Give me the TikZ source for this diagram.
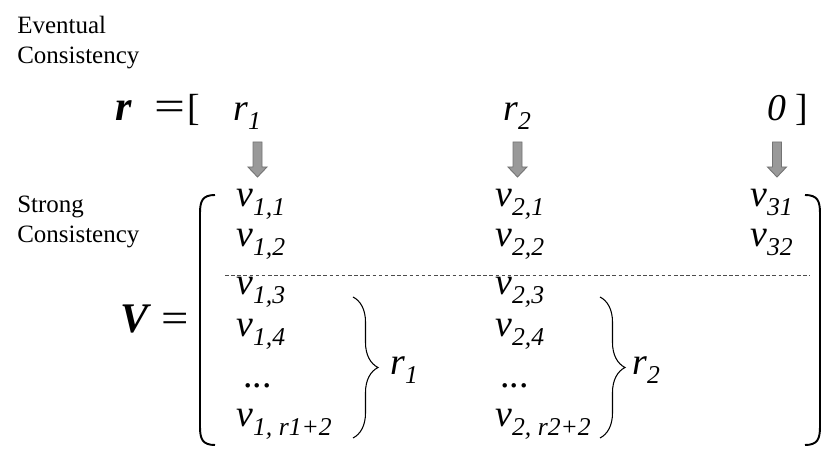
\documentclass[tikz,border=0pt]{standalone}
\usepackage{fontspec}
\setmainfont{Liberation Serif}
\usepackage{tikz}
\usetikzlibrary{decorations.pathreplacing}

\newcommand{\bigsz}{\fontsize{21.5}{26}\selectfont}
\newcommand{\boldsz}{\fontsize{24}{28}\selectfont}
\newcommand{\subsz}{\fontsize{14.6}{17}\selectfont}
\newcommand{\txtsz}{\fontsize{14.2}{17}\selectfont}
\newcommand{\vsb}[1]{\raisebox{-4.8pt}{\subsz #1}}

\begin{document}
\begin{tikzpicture}[
  note/.style={font=\txtsz, inner sep=0pt, anchor=base west},
  ent/.style={font=\bigsz\itshape, inner sep=0pt, anchor=base west},
  garrow/.style={fill=black!40, draw=black!55, line width=0.5pt},
  paren/.style={line width=1.1pt},
  brc/.style={decorate, decoration={brace, amplitude=0.5cm}, line width=0.6pt}
]
\useasboundingbox (0,0) rectangle (16.7,9.32);

\node [note] (ev1) at (0.34,8.64) {Eventual};
\node [note] (ev2) at (0.34,8.04) {Consistency};
\node [note] (st1) at (0.34,5.06) {Strong};
\node [note] (st2) at (0.34,4.46) {Consistency};

% r row
\node [ent, font=\boldsz\bfseries\itshape] (rb) at (2.3,6.9) {r};
\node [ent, font=\boldsz, anchor=base] (req) at (3.39,6.9) {\scalebox{1.3}[1]{=}};
\node [ent] (rbr) at (3.74,6.9) {\upshape [};
\node [ent] (r1) at (4.66,6.9) {r\vsb{1}};
\node [ent] (r2) at (10.06,6.9) {r\vsb{2}};
\node [ent] (r3) at (15.34,6.9) {0 \upshape ]};

% V row
\node [ent, font=\boldsz\bfseries\itshape] (Vb) at (2.4,2.66) {V};
\node [ent, font=\boldsz, anchor=base] (veq) at (3.5,2.66) {\scalebox{1.15}[1]{=}};

\draw[paren] (4.3,5.42) .. controls (4.05,5.42) and (4.0,5.3) .. (4.0,5.06) -- (4.0,0.78) .. controls (4.0,0.54) and (4.05,0.42) .. (4.3,0.42);
\draw[paren] (16.1,5.42) .. controls (16.35,5.42) and (16.4,5.3) .. (16.4,5.06) -- (16.4,0.78) .. controls (16.4,0.54) and (16.35,0.42) .. (16.1,0.42);

\node [ent] (v11) at (4.72,5.18) {v\vsb{1,1}};
\node [ent] (v12) at (4.72,4.38) {v\vsb{1,2}};
\node [ent] (v13) at (4.72,3.42) {v\vsb{1,3}};
\node [ent] (v14) at (4.72,2.58) {v\vsb{1,4}};
\node [ent] (d1) at (4.86,1.56) {\upshape ...};
\node [ent] (v1r) at (4.72,0.78) {v\vsb{1, r1+2}};

\node [ent] (v21) at (9.9,5.18) {v\vsb{2,1}};
\node [ent] (v22) at (9.9,4.38) {v\vsb{2,2}};
\node [ent] (v23) at (9.9,3.42) {v\vsb{2,3}};
\node [ent] (v24) at (9.9,2.58) {v\vsb{2,4}};
\node [ent] (d2) at (10.0,1.56) {\upshape ...};
\node [ent] (v2r) at (9.9,0.78) {v\vsb{2, r2+2}};

\node [ent] (v31) at (15.0,5.18) {v\vsb{31}};
\node [ent] (v32) at (15.0,4.38) {v\vsb{32}};

\draw[dashed, black!70, line width=0.5pt, dash pattern=on 2pt off 1.5pt] (4.5,3.82) -- (16.2,3.82);

% arrows
\coordinate (a1) at (5.15,6.48);
\coordinate (a2) at (10.35,6.48);
\coordinate (a3) at (15.54,6.48);
\draw[garrow] (a1) ++(-0.09,0) -- ++(0.18,0) -- ++(0,-0.5) -- ++(0.1,0) -- ++(-0.19,-0.2) -- ++(-0.19,0.2) -- ++(0.1,0) -- cycle;
\draw[garrow] (a2) ++(-0.09,0) -- ++(0.18,0) -- ++(0,-0.5) -- ++(0.1,0) -- ++(-0.19,-0.2) -- ++(-0.19,0.2) -- ++(0.1,0) -- cycle;
\draw[garrow] (a3) ++(-0.09,0) -- ++(0.18,0) -- ++(0,-0.5) -- ++(0.1,0) -- ++(-0.19,-0.2) -- ++(-0.19,0.2) -- ++(0.1,0) -- cycle;

% braces
\draw[brc] (7.06,3.38) -- (7.06,0.56);
\draw[brc] (12.0,3.38) -- (12.0,0.56);
\node [ent] (lr1) at (7.8,1.82) {r\vsb{1}};
\node [ent] (lr2) at (12.64,1.82) {r\vsb{2}};

\end{tikzpicture}
\end{document}
